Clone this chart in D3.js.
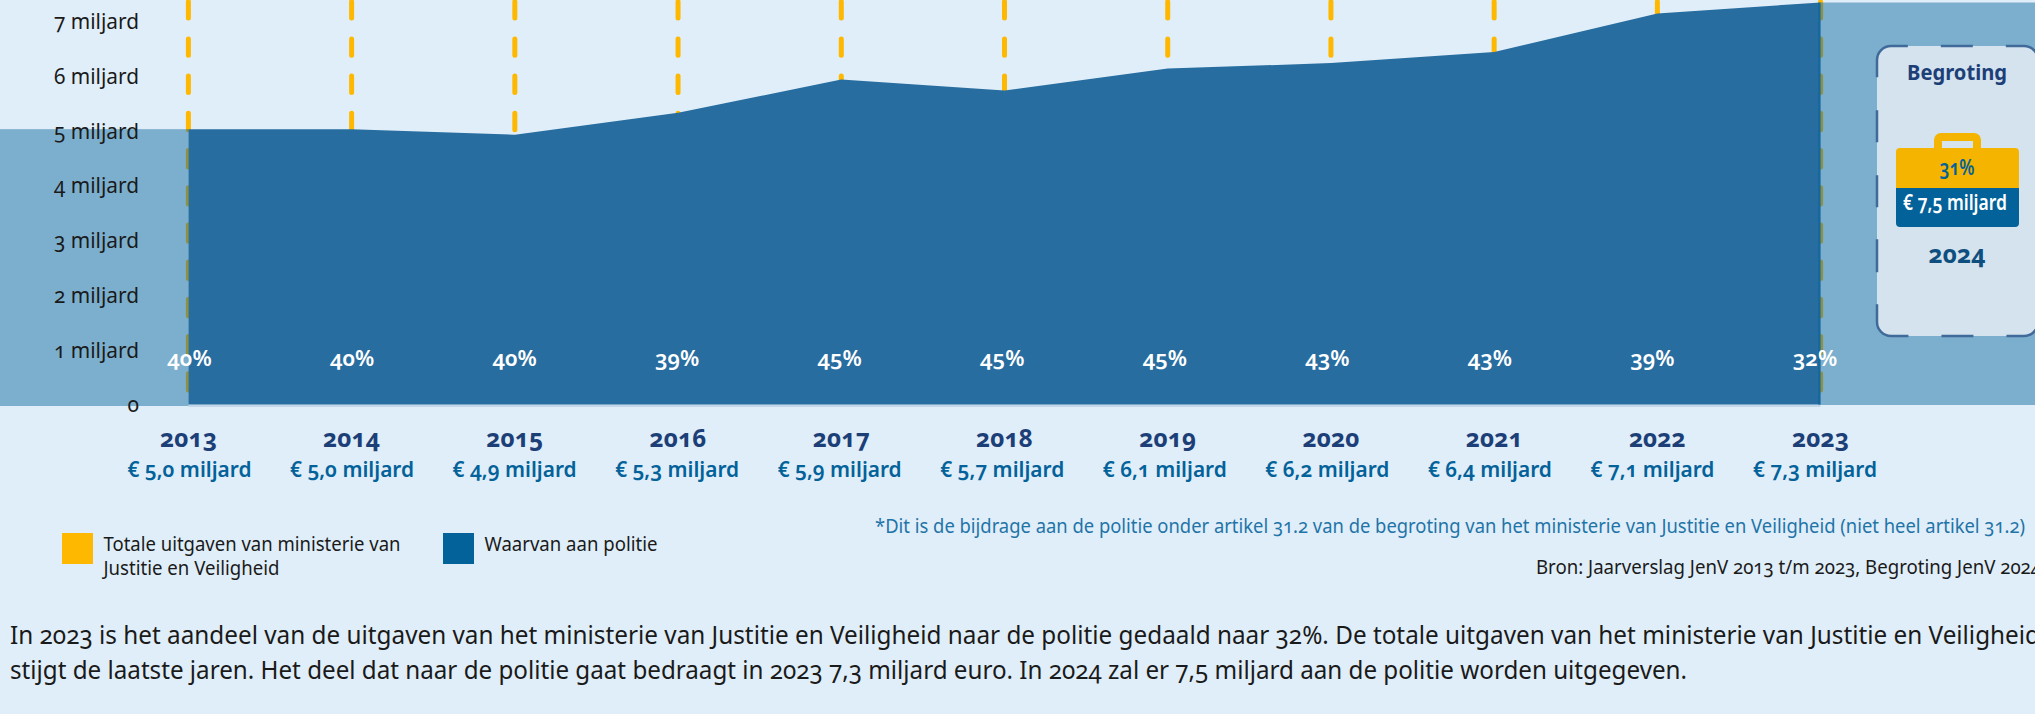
<!DOCTYPE html>
<html>
<head>
<meta charset="utf-8">
<script src="https://cdn.jsdelivr.net/npm/d3@7"></script>
<style>
  html, body { margin: 0; padding: 0; background: #e0eef9; overflow: hidden; }
  svg { display: block; }
  text { font-family: "Noto Sans", "Open Sans", sans-serif; font-feature-settings: "onum" 1; }
</style>
</head>
<body>
<div id="chart"></div>
<script>
const years = ["2013", "2014", "2015", "2016", "2017", "2018", "2019", "2020", "2021", "2022", "2023"];
const amounts = [5.0, 5.0, 4.9, 5.3, 5.9, 5.7, 6.1, 6.2, 6.4, 7.1, 7.3];
const shares = [40, 40, 40, 39, 45, 45, 45, 43, 43, 39, 32];
const yTicks = [0, 1, 2, 3, 4, 5, 6, 7];
const budgetYear = "2024";
const budgetAmount = 7.5;
const budgetShare = 31;

const width = 2035, height = 714;
const bg = "#e0eef9", yellow = "#ffb800", blue = "#036299", area = "#286da0", navy = "#1d3f78", ink = "#1a1a1a";
const euro = v => "€ " + v.toFixed(1).replace(".", ",") + " miljard";

const svg = d3.select("#chart").append("svg").attr("width", width).attr("height", height);
svg.append("rect").attr("width", width).attr("height", height).attr("fill", bg);

const x = d3.scalePoint().domain(years).range([188.4, 1820.6]);
const labelX = d3.scalePoint().domain(years).range([189.5, 1815]);
const y = d3.scaleLinear().domain([0, 7.3]).range([404.5, 2.5]);
const tickY = d3.scaleLinear().domain([0, 7]).range([405, 22]); // tick labels sit a bit tighter than the marks

// dashed yellow lines, behind everything
svg.append("g")
  .selectAll("line")
  .data(years)
  .join("line")
  .attr("x1", d => x(d)).attr("x2", d => x(d))
  .attr("y1", -35.5).attr("y2", 392)
  .attr("stroke", yellow)
  .attr("stroke-width", 5)
  .attr("stroke-linecap", "round")
  .attr("stroke-dasharray", "16.4 20.8");

// main area
const data = years.map((d, i) => ({ year: d, value: amounts[i] }));
svg.append("rect")
  .attr("x", x(years[0])).attr("y", y(0))
  .attr("width", x(years[10]) - x(years[0])).attr("height", 2.5)
  .attr("fill", "#c3d7e8");
svg.append("path")
  .datum(data)
  .attr("fill", area)
  .attr("d", d3.area().x(d => x(d.year)).y0(y(0)).y1(d => y(d.value)));

// side bands carry first and last value outwards
svg.append("rect")
  .attr("x", 0).attr("y", y(amounts[0]))
  .attr("width", x(years[0])).attr("height", y(0) - y(amounts[0]) + 1.5)
  .attr("fill", blue).attr("fill-opacity", 0.45);
svg.append("rect")
  .attr("x", x(years[10]) - 2.5).attr("y", y(amounts[10]))
  .attr("width", width - x(years[10]) + 2.5).attr("height", y(0) - y(amounts[10]) + 0.5)
  .attr("fill", blue).attr("fill-opacity", 0.45);

// y axis
const yAxis = svg.append("g")
  .attr("transform", "translate(139,0)")
  .call(d3.axisLeft(tickY).tickValues(yTicks).tickSize(0).tickPadding(0)
    .tickFormat(d => d === 0 ? "0" : d + " miljard"));
yAxis.select(".domain").remove();
yAxis.selectAll("text")
  .attr("fill", ink)
  .attr("font-size", 21)
  .attr("dy", "0.32em")
  .each(function (d) { if (d) d3.select(this).attr("textLength", 85).attr("lengthAdjust", "spacingAndGlyphs"); });

// percentages in the area
svg.append("g")
  .selectAll("text")
  .data(shares)
  .join("text")
  .attr("x", (d, i) => labelX(years[i]))
  .attr("y", 366)
  .attr("text-anchor", "middle")
  .attr("fill", "white")
  .attr("font-size", 22)
  .attr("font-weight", 600)
  .text(d => d + "%");

// year + amount under the axis
svg.append("g")
  .selectAll("text")
  .data(years)
  .join("text")
  .attr("x", d => x(d))
  .attr("y", 447)
  .attr("text-anchor", "middle")
  .attr("fill", navy)
  .attr("font-size", 25)
  .attr("font-weight", 700)
  .attr("textLength", 57)
  .attr("lengthAdjust", "spacingAndGlyphs")
  .text(d => d);

svg.append("g")
  .selectAll("text")
  .data(amounts)
  .join("text")
  .attr("x", (d, i) => labelX(years[i]))
  .attr("y", 477)
  .attr("text-anchor", "middle")
  .attr("fill", blue)
  .attr("font-size", 22)
  .attr("font-weight", 600)
  .attr("textLength", 124)
  .attr("lengthAdjust", "spacingAndGlyphs")
  .text(d => euro(d));

// budget card; the corners get longer dashes than the sides, so the pattern is written out
const card = svg.append("g");
card.append("rect")
  .attr("x", 1877).attr("y", 46).attr("width", 161).attr("height", 290).attr("rx", 14)
  .attr("fill", "#d4e3ee");
card.append("path")
  .attr("d", "M2038 60a14 14 0 0 0-14-14H1891a14 14 0 0 0-14 14V322a14 14 0 0 0 14 14H2024a14 14 0 0 0 14-14")
  .attr("fill", "none")
  .attr("stroke", "#3f6a9a").attr("stroke-width", 2.5)
  .attr("stroke-dasharray", "40 33 32 33 56 33 32 33 32 32 33 32 57 33 32 33 40");
const label = (g, t, px, py, size, weight, fill, len) => g.append("text")
  .attr("x", px).attr("y", py).attr("text-anchor", "middle")
  .attr("font-size", size).attr("font-weight", weight).attr("fill", fill)
  .attr("textLength", len).attr("lengthAdjust", "spacingAndGlyphs")
  .text(t);
label(card, "Begroting", 1957, 80, 21, 700, navy, 100);
card.append("path")
  .attr("d", "M1934 150V140a7 7 0 0 1 7-7h33a7 7 0 0 1 7 7v10h-8v-9h-31v9z")
  .attr("fill", "#f4b400");
card.append("path")
  .attr("d", "M1896 188V152a4 4 0 0 1 4-4h115a4 4 0 0 1 4 4v36z")
  .attr("fill", "#f4b400");
card.append("path")
  .attr("d", "M1896 188h123v35a4 4 0 0 1-4 4h-115a4 4 0 0 1-4-4z")
  .attr("fill", blue);
label(card, budgetShare + "%", 1957, 175, 21, 600, blue, 35);
label(card, euro(budgetAmount), 1955, 210, 21, 600, "white", 104);
label(card, budgetYear, 1957, 263, 25, 700, "#0e4f80", 57);

// legend + notes
svg.append("rect").attr("x", 62).attr("y", 533).attr("width", 31).attr("height", 31).attr("fill", yellow);
svg.append("rect").attr("x", 443).attr("y", 533).attr("width", 31).attr("height", 31).attr("fill", blue);

const line = (t, px, py, size, fill, len) => svg.append("text")
  .attr("x", px).attr("y", py)
  .attr("font-size", size).attr("fill", fill)
  .attr("textLength", len).attr("lengthAdjust", "spacingAndGlyphs")
  .text(t);
line("Totale uitgaven van ministerie van", 103.5, 551, 20, ink, 297);
line("Justitie en Veiligheid", 103.5, 575, 20, ink, 176);
line("Waarvan aan politie", 484.5, 551, 20, ink, 173);
line("*Dit is de bijdrage aan de politie onder artikel 31.2 van de begroting van het ministerie van Justitie en Veiligheid (niet heel artikel 31.2)", 875, 533, 20, "#1f74a8", 1150);
line("Bron: Jaarverslag JenV 2013 t/m 2023, Begroting JenV 2024", 1536, 574, 20, ink, 505);
line("In 2023 is het aandeel van de uitgaven van het ministerie van Justitie en Veiligheid naar de politie gedaald naar 32%. De totale uitgaven van het ministerie van Justitie en Veiligheid", 10, 644, 25, ink, 2030);
line("stijgt de laatste jaren. Het deel dat naar de politie gaat bedraagt in 2023 7,3 miljard euro. In 2024 zal er 7,5 miljard aan de politie worden uitgegeven.", 10, 679, 25, ink, 1677);
</script>
</body>
</html>
